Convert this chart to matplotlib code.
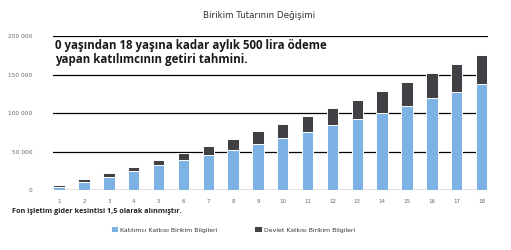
import matplotlib
matplotlib.use("Agg")
import matplotlib.pyplot as plt
import numpy as np

years = list(range(1, 19))
katilimci = [4300, 11100, 17600, 24600, 32400, 38900, 46000, 52200, 60500,
             67700, 75500, 85100, 92300, 100500, 109600, 119100, 127700, 137300]
toplam = [6900, 15000, 22800, 30600, 39600, 48700, 57400, 66000, 76400,
          85900, 95800, 106200, 116600, 128600, 140200, 151900, 163600, 175200]
devlet = [t - k for t, k in zip(toplam, katilimci)]
yticks = [0, 50000, 100000, 150000, 200000]
ytick_labels = ["0", "50 000", "100 000", "150 000", "200 000"]

title = "Birikim Tutarının Değişimi"
note = "0 yaşından 18 yaşına kadar aylık 500 lira ödeme\nyapan katılımcının getiri tahmini."
footnote = "Fon işletim gider kesintisi 1,5 olarak alınmıştır."
labels = ["Katılımcı Katkısı Birikim Bilgileri", "Devlet Katkısı Birikim Bilgileri"]

blue = "#7eb1e4"
dark = "#414145"

W, H = 511, 250
fig = plt.figure(figsize=(W / 100, H / 100), dpi=100)
ax = fig.add_axes([52.7 / W, 1 - 190.3 / H, (487.7 - 52.7) / W, (190.3 - 36) / H])

for yv in yticks:
    ax.axhline(yv, color="black", lw=0.9, zorder=1)

b1 = ax.bar(years, katilimci, width=0.46, color=blue, edgecolor="white", linewidth=0.7, zorder=2)
b2 = ax.bar(years, devlet, bottom=katilimci, width=0.46, color=dark, edgecolor="white", linewidth=0.7, zorder=2)

ax.set_xlim(0.74, 18.25)
ax.set_ylim(0, 200000)
for s in ax.spines.values():
    s.set_visible(False)
ax.set_yticks(yticks)
ax.set_yticklabels(ytick_labels)
ax.set_xticks(years)
ax.set_xticklabels([str(y) for y in years])
ax.tick_params(axis="y", length=0, pad=14.4, labelsize=4.2, labelcolor="#666666")
ax.tick_params(axis="x", length=0, pad=6, labelsize=4.0, labelcolor="#666666")

fig.text(259 / W, 1 - 16 / H, title, ha="center", va="center", fontsize=6.3, color="#333333")
fig.text(55 / W, 1 - 52.5 / H, note, ha="left", va="center", fontsize=8.3,
         fontweight="bold", fontstretch="normal", family="Open Sans", color="#1a1a1a",
         linespacing=1.1)
fig.text(11.5 / W, 1 - 211.7 / H, footnote, ha="left", va="center", fontsize=5.25,
         fontweight="bold", fontstretch="normal", family="Open Sans", color="#222222")

fig.legend([b1, b2], labels, loc="center", bbox_to_anchor=(233 / W, 1 - 229.5 / H),
           ncol=2, frameon=False, fontsize=4.4, handlelength=1.2, handleheight=1.1,
           handletextpad=0.4, columnspacing=6.0, labelcolor="#333333")

fig.savefig("out.png", dpi=100)
